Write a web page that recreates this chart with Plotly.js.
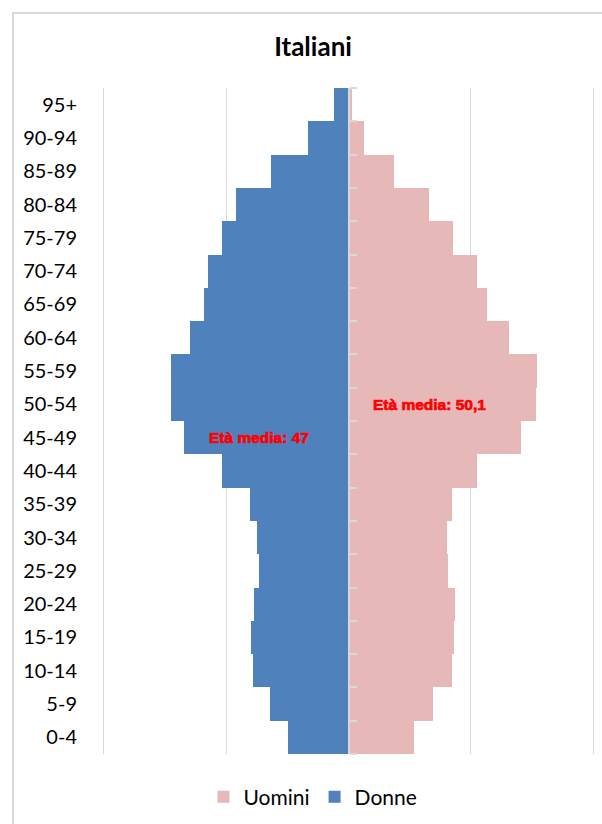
<!DOCTYPE html>
<html>
<head>
<meta charset="utf-8">
<script src="https://cdn.plot.ly/plotly-3.0.1.min.js"></script>
<style>
  html, body { margin: 0; padding: 0; background: #fff; }
  #wrap { position: relative; width: 602px; height: 824px; overflow: hidden; }
  #chart { position: absolute; left: 0; top: 0; width: 602px; height: 824px; }
  #frame { position: absolute; left: 12px; top: 12px; width: 620px; height: 840px;
           border: 2px solid #d9d9d9; box-sizing: border-box; pointer-events: none; }
  .annotation-text { paint-order: stroke; stroke: #FF0000; stroke-width: 0.7px; }
</style>
</head>
<body>
<div id="wrap">
  <div id="chart"></div>
  <div id="frame"></div>
</div>
<script>
// Age groups, bottom to top
const ageGroups = ["0-4","5-9","10-14","15-19","20-24","25-29","30-34","35-39","40-44","45-49",
                   "50-54","55-59","60-64","65-69","70-74","75-79","80-84","85-89","90-94","95+"];
// Donne (women) – plotted to the left
const donne = [0.99, 1.28, 1.56, 1.60, 1.55, 1.46, 1.49, 1.61, 2.07, 2.69,
               2.90, 2.90, 2.60, 2.36, 2.30, 2.07, 1.84, 1.26, 0.67, 0.23];
// Uomini (men) – plotted to the right
const uomini = [1.07, 1.38, 1.70, 1.72, 1.74, 1.62, 1.61, 1.70, 2.11, 2.83,
                3.06, 3.09, 2.62, 2.26, 2.10, 1.71, 1.32, 0.75, 0.26, 0.06];
const seriesNames = ["Uomini", "Donne"];
const chartTitle = "Italiani";
const notes = [
  {text: "Età media: 47", x: -1.47, y: "45-49"},
  {text: "Età media: 50,1", x: 1.32, y: "50-54"}
];

const FONT = "Lato, 'Noto Sans', sans-serif";

const traces = [
  {
    type: "bar", orientation: "h", name: seriesNames[0],
    y: ageGroups, x: uomini,
    marker: {color: "#E6B9B8", line: {width: 0}},
    hoverinfo: "skip"
  },
  {
    type: "bar", orientation: "h", name: seriesNames[1],
    y: ageGroups, x: donne.map(v => -v),
    marker: {color: "#4F81BD", line: {width: 0}},
    hoverinfo: "skip"
  },
  {
    type: "bar", orientation: "h", name: "axis", showlegend: false,
    y: ageGroups, x: ageGroups.map(() => 0), yaxis: "y2",
    marker: {color: "rgba(0,0,0,0)"}, hoverinfo: "skip"
  }
];

const layout = {
  width: 602, height: 824,
  margin: {l: 104, r: 9, t: 88, b: 70},
  paper_bgcolor: "#ffffff", plot_bgcolor: "#ffffff",
  font: {family: FONT, color: "#000000"},
  title: {
    text: "<b>" + chartTitle + "</b>",
    font: {family: FONT, size: 26, color: "#000"},
    x: 0.52, xref: "container", xanchor: "center",
    y: 1 - 47/824, yref: "container", yanchor: "middle"
  },
  barmode: "relative",
  bargap: 0,
  xaxis: {
    range: [-4, 4], dtick: 2, tick0: 0,
    showgrid: true, gridcolor: "#d9d9d9", gridwidth: 1,
    zeroline: false, showticklabels: false, ticks: "",
    showline: false, fixedrange: true
  },
  yaxis: {
    type: "category", categoryorder: "array", categoryarray: ageGroups,
    range: [-0.5, ageGroups.length - 0.5],
    showgrid: false, zeroline: false,
    showline: true, mirror: true, linecolor: "#d9d9d9", linewidth: 1,
    ticks: "", ticklabelstandoff: 22,
    tickfont: {size: 20, family: FONT, color: "#000"},
    fixedrange: true
  },
  yaxis2: {
    type: "category", categoryorder: "array", categoryarray: ageGroups,
    range: [-0.5, ageGroups.length - 0.5],
    overlaying: "y", anchor: "free", position: 0.5, side: "right",
    showgrid: false, zeroline: false,
    showline: true, linecolor: "#d9d9d9", linewidth: 2,
    ticks: "outside", tickson: "boundaries", ticklen: 7, tickwidth: 2, tickcolor: "#d9d9d9",
    showticklabels: false, fixedrange: true
  },
  showlegend: true,
  legend: {
    orientation: "h", traceorder: "normal",
    x: 0.52, xref: "container", xanchor: "center",
    y: 1 - 797/824, yref: "container", yanchor: "middle",
    font: {size: 21, family: FONT, color: "#000"},
    itemwidth: 30
  },
  annotations: notes.map(n => ({
    text: "<b>" + n.text + "</b>", x: n.x, y: n.y, xref: "x", yref: "y",
    showarrow: false, xanchor: "center", yanchor: "middle",
    font: {family: "'Liberation Sans', Arial, sans-serif", size: 15.5, color: "#FF0000"}
  }))
};

Plotly.newPlot("chart", traces, layout, {displayModeBar: false, staticPlot: true});
</script>
</body>
</html>
